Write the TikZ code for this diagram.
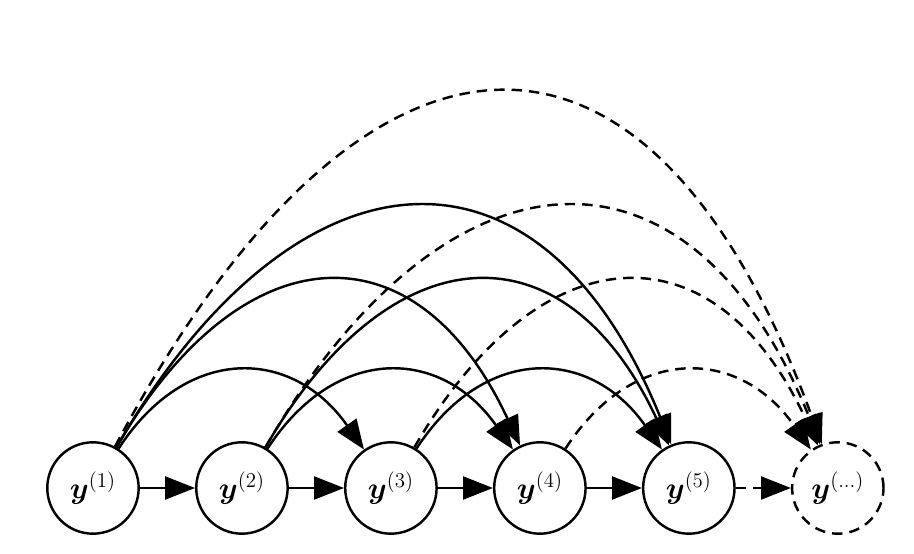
\documentclass[tikz,border=0pt]{standalone}
\usepackage{bm}
\usetikzlibrary{positioning,arrows.meta}
\begin{document}
\begin{tikzpicture}[
                font=\fontsize{17}{20}\selectfont,
                node distance=1.11cm,
                var/.style={circle, draw, line width=1.4pt, minimum size=1.84cm, inner sep=0pt},
                open/.style={var, dash pattern=on 6pt off 4pt},
                link/.style={line width=1.4pt, -{Triangle[length=0.6cm,width=0.46cm]}},
                skip/.style={link, dash pattern=on 6pt off 4pt}
            ]
                \useasboundingbox (-1.872,-1.309) rectangle (16.53,9.825);
                \node[var] (y1) at (0, 0) {$\bm{y}^{(1)}$};
                \node[var, right=of y1] (y2) {$\bm{y}^{(2)}$};
                \node[var, right=of y2] (y3) {$\bm{y}^{(3)}$};
                \node[var, right=of y3] (y4) {$\bm{y}^{(4)}$};
                \node[var, right=of y4] (y5) {$\bm{y}^{(5)}$};
                \node[open, right=of y5] (y6) {$\bm{y}^{(\ldots)}$};
                
                \draw[link] (y1) -- (y2);
                \draw[link] (y2) -- (y3);
                \draw[link] (y3) -- (y4);
                \draw[link] (y4) -- (y5);
                \draw[skip] (y5) -- (y6);
                
                % solid arcs
                \draw[link] (y1) to[out=57, in=125, looseness=1.3] (y3);
                \draw[link] (y2) to[out=57, in=125, looseness=1.3] (y4);
                \draw[link] (y3) to[out=57, in=125, looseness=1.3] (y5);
                \draw[link] (y1) to[out=60, in=115, looseness=1.57] (y4);
                \draw[link] (y2) to[out=60, in=115, looseness=1.57] (y5);
                \draw[link] (y1) to[out=60, in=112, looseness=1.63] (y5);
                % dashed arcs
                \draw[skip] (y4) to[out=57, in=125, looseness=1.3] (y6);
                \draw[skip] (y3) to[out=60, in=115, looseness=1.57] (y6);
                \draw[skip] (y2) to[out=60, in=112, looseness=1.63] (y6);
                \draw[skip] (y1) to[out=62, in=110, looseness=1.86] (y6);
            \end{tikzpicture}
\end{document}
